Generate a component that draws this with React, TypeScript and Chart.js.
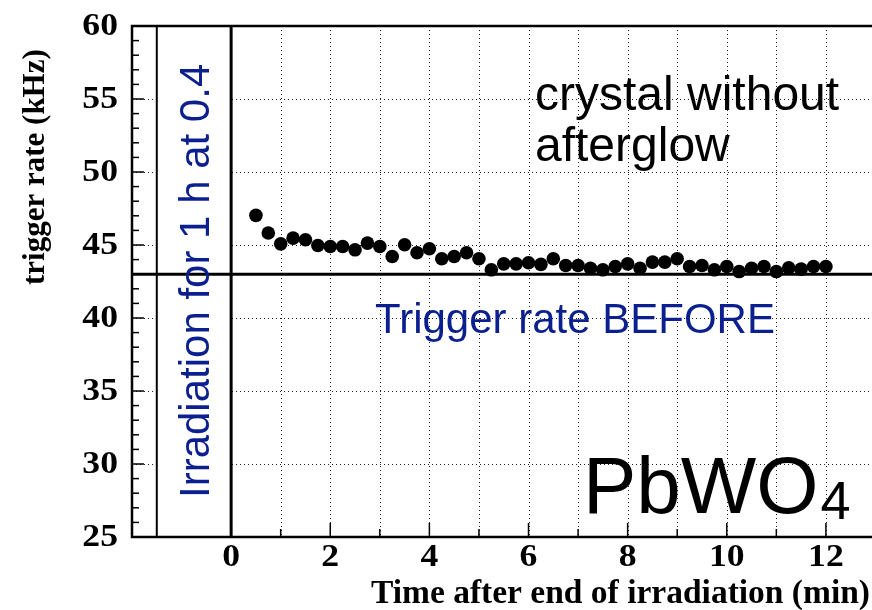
import { useEffect, useRef } from "react";
import { Chart, registerables } from "chart.js";
Chart.register(...registerables);

// ---- data ----
const timeMin = [
  0.5, 0.75, 1.0, 1.25, 1.5, 1.75, 2.0, 2.25, 2.5, 2.75,
  3.0, 3.25, 3.5, 3.75, 4.0, 4.25, 4.5, 4.75, 5.0, 5.25,
  5.5, 5.75, 6.0, 6.25, 6.5, 6.75, 7.0, 7.25, 7.5, 7.75,
  8.0, 8.25, 8.5, 8.75, 9.0, 9.25, 9.5, 9.75, 10.0, 10.25,
  10.5, 10.75, 11.0, 11.25, 11.5, 11.75, 12.0,
];
const triggerRateKHz = [
  47.03, 45.82, 45.08, 45.47, 45.36, 44.97, 44.9, 44.9, 44.67, 45.13,
  44.9, 44.21, 45.02, 44.47, 44.74, 44.06, 44.21, 44.47, 44.06, 43.3,
  43.71, 43.71, 43.78, 43.67, 44.06, 43.6, 43.6, 43.41, 43.3, 43.53,
  43.71, 43.41, 43.83, 43.83, 44.06, 43.53, 43.6, 43.3, 43.53, 43.18,
  43.41, 43.53, 43.18, 43.43, 43.35, 43.53, 43.53,
];
const rateBefore = 43;
const irradiationStart = -1.5;
const irradiationEnd = 0;

const xMin = -2;
const xMax = 12.93;
const yMin = 25;
const yMax = 60;
const xLabelTicks = [0, 2, 4, 6, 8, 10, 12];
const xGridTicks = [-1, 1, 2, 3, 4, 5, 6, 7, 8, 9, 10, 11, 12];
const xMinorTicks = [1, 3, 5, 7, 9, 11];
const yLabelTicks = [25, 30, 35, 40, 45, 50, 55, 60];
const yGridTicks = [30, 35, 40, 45, 50, 55];
const yMinorTicks = [
  26, 27, 28, 29, 31, 32, 33, 34, 36, 37, 38, 39, 41, 42, 43, 44,
  46, 47, 48, 49, 51, 52, 53, 54, 56, 57, 58, 59,
];

const xTitle = "Time after end of irradiation (min)";
const yTitle = "trigger rate (kHz)";
const irrText = "Irradiation for 1 h at 0.4";
const beforeText = "Trigger rate BEFORE";
const noteLines = ["crystal without", "afterglow"];

const BLUE = "#0b1f8f";
const SERIF = "'Liberation Serif', 'DejaVu Serif', serif";
const SANS = "'Liberation Sans', Arial, sans-serif";

function txt(
  ctx: CanvasRenderingContext2D,
  s: string,
  x: number,
  y: number,
  font: string,
  color: string,
  align: "left" | "center" | "right",
  baseline: CanvasTextBaseline = "alphabetic",
  rot = 0,
  sx = 1
) {
  ctx.save();
  ctx.font = font;
  ctx.fillStyle = color;
  ctx.textBaseline = baseline;
  ctx.textAlign = "left";
  const w = ctx.measureText(s).width;
  ctx.translate(x, y);
  if (rot) ctx.rotate(rot);
  ctx.scale(sx, 1);
  const off = align === "left" ? 0 : align === "center" ? -w / 2 : -w;
  ctx.fillText(s, off, 0);
  ctx.restore();
}

const framePlugin = {
  id: "frame",
  beforeDatasetsDraw(chart: any) {
    const ctx: CanvasRenderingContext2D = chart.ctx;
    const xs = chart.scales.x;
    const ys = chart.scales.y;
    const { left, right, top, bottom } = chart.chartArea;
    ctx.save();
    // grid
    ctx.strokeStyle = "#222";
    ctx.lineWidth = 1;
    ctx.setLineDash([1, 3]);
    for (const v of xGridTicks) {
      const p = Math.round(xs.getPixelForValue(v)) + 0.5;
      ctx.beginPath();
      ctx.moveTo(p, top);
      ctx.lineTo(p, bottom);
      ctx.stroke();
    }
    for (const v of yGridTicks) {
      const p = Math.round(ys.getPixelForValue(v)) + 0.5;
      ctx.beginPath();
      ctx.moveTo(left, p);
      ctx.lineTo(right, p);
      ctx.stroke();
    }
    ctx.setLineDash([]);
    // irradiation box
    const bx0 = xs.getPixelForValue(irradiationStart);
    const bx1 = xs.getPixelForValue(irradiationEnd);
    ctx.fillStyle = "#fff";
    ctx.fillRect(bx0, top, bx1 - bx0, bottom - top);
    ctx.strokeStyle = "#000";
    ctx.lineWidth = 2;
    ctx.beginPath();
    ctx.moveTo(bx0, top);
    ctx.lineTo(bx0, bottom);
    ctx.stroke();
    ctx.lineWidth = 3;
    ctx.beginPath();
    ctx.moveTo(bx1, top);
    ctx.lineTo(bx1, bottom);
    ctx.stroke();
    // before line
    const by = ys.getPixelForValue(rateBefore);
    ctx.lineWidth = 3;
    ctx.beginPath();
    ctx.moveTo(left, by);
    ctx.lineTo(right, by);
    ctx.stroke();
    // axes frame
    ctx.lineWidth = 2.5;
    ctx.beginPath();
    ctx.moveTo(right, top);
    ctx.lineTo(left, top);
    ctx.lineTo(left, bottom);
    ctx.lineTo(right, bottom);
    ctx.stroke();
    // ticks
    ctx.lineWidth = 1.5;
    for (const v of xLabelTicks) {
      const p = xs.getPixelForValue(v);
      ctx.beginPath();
      ctx.moveTo(p, bottom);
      ctx.lineTo(p, bottom - 14);
      ctx.stroke();
    }
    for (const v of xMinorTicks) {
      const p = xs.getPixelForValue(v);
      ctx.beginPath();
      ctx.moveTo(p, bottom);
      ctx.lineTo(p, bottom - 8);
      ctx.stroke();
    }
    for (const v of yLabelTicks) {
      const p = ys.getPixelForValue(v);
      ctx.beginPath();
      ctx.moveTo(left, p);
      ctx.lineTo(left + 12, p);
      ctx.stroke();
    }
    for (const v of yMinorTicks) {
      const p = ys.getPixelForValue(v);
      ctx.beginPath();
      ctx.moveTo(left, p);
      ctx.lineTo(left + 7, p);
      ctx.stroke();
    }
    ctx.restore();
  },
  afterDatasetsDraw(chart: any) {
    const ctx: CanvasRenderingContext2D = chart.ctx;
    const xs = chart.scales.x;
    const ys = chart.scales.y;
    const { left, bottom } = chart.chartArea;
    // tick labels
    for (const v of xLabelTicks) {
      txt(ctx, String(v), xs.getPixelForValue(v), bottom + 21, `bold 31px ${SERIF}`, "#000", "center", "middle", 0, 1.15);
    }
    for (const v of yLabelTicks) {
      txt(ctx, String(v), left - 14, ys.getPixelForValue(v) + 1, `bold 31px ${SERIF}`, "#000", "right", "middle", 0, 1.15);
    }
    // axis titles
    txt(ctx, xTitle, 870, 603, `bold 33.5px ${SERIF}`, "#000", "right");
    txt(ctx, yTitle, 44, 285, `bold 31px ${SERIF}`, "#000", "left", "alphabetic", -Math.PI / 2);
    // annotations
    txt(ctx, noteLines[0], 535, 110, `48px ${SANS}`, "#000", "left");
    txt(ctx, noteLines[1], 535, 161, `48px ${SANS}`, "#000", "left");
    txt(ctx, beforeText, 575, 333, `42px ${SANS}`, BLUE, "center");
    txt(ctx, irrText, 209, 498, `42px ${SANS}`, BLUE, "left", "alphabetic", -Math.PI / 2);
    // PbWO4
    ctx.save();
    ctx.font = `80px ${SANS}`;
    const w = ctx.measureText("PbWO").width;
    ctx.restore();
    txt(ctx, "PbWO", 583, 513, `80px ${SANS}`, "#000", "left");
    txt(ctx, "4", 583 + w + 2, 519, `54px ${SANS}`, "#000", "left");
  },
};

export default function App() {
  const ref = useRef<HTMLCanvasElement | null>(null);
  useEffect(() => {
    document.body.style.margin = "0";
    document.body.style.background = "#fff";
    const canvas = ref.current!;
    const chart = new Chart(canvas, {
      type: "scatter",
      data: {
        datasets: [
          {
            data: timeMin.map((t, i) => ({ x: t, y: triggerRateKHz[i] })),
            backgroundColor: "#000",
            borderColor: "#000",
            borderWidth: 0,
            pointRadius: 6.8,
            pointHoverRadius: 6.8,
          },
        ],
      },
      options: {
        responsive: false,
        animation: false,
        events: [],
        layout: { autoPadding: false, padding: { left: 132, top: 26, bottom: 73, right: 0 } },
        plugins: { legend: { display: false }, tooltip: { enabled: false }, title: { display: false } },
        scales: {
          x: { type: "linear", min: xMin, max: xMax, display: false },
          y: { type: "linear", min: yMin, max: yMax, display: false },
        },
      },
      plugins: [framePlugin],
    });
    return () => chart.destroy();
  }, []);
  return <canvas ref={ref} width={872} height={610} style={{ display: "block" }} />;
}
